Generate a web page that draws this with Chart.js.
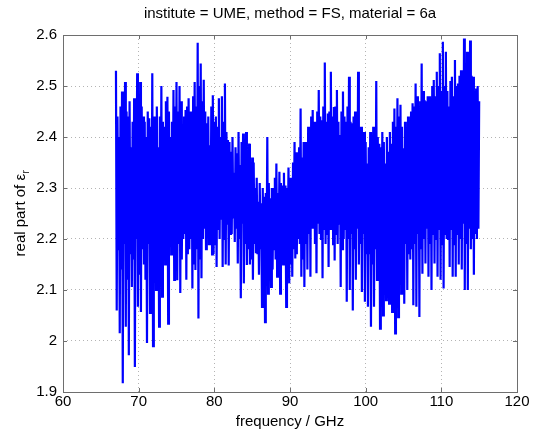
<!DOCTYPE html>
<html>
<head>
<meta charset="utf-8">
<script src="https://cdn.jsdelivr.net/npm/chart.js@4.4.1/dist/chart.umd.min.js"></script>
<style>
  html, body { margin: 0; padding: 0; background: #fff; }
  #wrap { width: 534px; height: 437px; }
</style>
</head>
<body>
<div id="wrap"><canvas id="epsChart" width="534" height="437"></canvas></div>
<script>
// --- data
var titleText = 'institute = UME, method = FS, material = 6a';
var xLabel = 'frequency / GHz';
var yLabel = 'real part of \u03b5';
var yLabelSub = 'r';

var xTicks = [60, 70, 80, 90, 100, 110, 120];
var yTicks = [1.9, 2.0, 2.1, 2.2, 2.3, 2.4, 2.5, 2.6];

// frequency grid (GHz): first point and spacing
var freqStart = 67.0;
var freqStep = 0.1;

// real part of eps_r, one value per frequency point (67.0 ... 115.0 GHz)
var epsReal = [
    2.53, 2.06, 2.44, 2.18, 2.40, 2.015, 2.46, 2.14,
    2.489, 1.917, 2.42, 2.19, 2.508, 2.028, 2.45, 2.12,
    2.44, 1.972, 2.47, 2.17, 2.38, 2.106, 2.43, 2.16,
    2.476, 1.949, 2.44, 2.20, 2.525, 2.067, 2.41, 2.13,
    2.508, 2.057, 2.46, 2.18, 2.44, 2.15, 2.43, 2.12,
    2.40, 1.996, 2.45, 2.19, 2.437, 2.055, 2.42, 2.15,
    2.525, 1.99, 2.44, 2.17, 2.44, 2.10, 2.46, 2.19,
    2.38, 2.028, 2.44, 2.16, 2.50, 2.087, 2.43, 2.20,
    2.42, 2.15, 2.47, 2.18, 2.479, 2.034, 2.45, 2.21,
    2.40, 2.17, 2.43, 2.17, 2.492, 2.12, 2.46, 2.19,
    2.508, 2.119, 2.45, 2.19, 2.50, 2.094, 2.47, 2.16,
    2.38, 2.20, 2.44, 2.21, 2.453, 2.12, 2.46, 2.17,
    2.476, 2.18, 2.45, 2.20, 2.43, 2.103, 2.48, 2.15,
    2.508, 2.139, 2.46, 2.18, 2.585, 2.044, 2.50, 2.16,
    2.544, 2.123, 2.47, 2.20, 2.512, 2.22, 2.45, 2.18,
    2.427, 2.227, 2.44, 2.19, 2.384, 2.20, 2.46, 2.17,
    2.482, 2.17, 2.43, 2.19, 2.44, 2.145, 2.42, 2.22,
    2.476, 2.20, 2.40, 2.24, 2.48, 2.145, 2.43, 2.20,
    2.505, 2.15, 2.41, 2.23, 2.394, 2.148, 2.39, 2.21,
    2.371, 2.21, 2.40, 2.24, 2.33, 2.194, 2.38, 2.22,
    2.368, 2.152, 2.41, 2.20, 2.345, 2.084, 2.39, 2.23,
    2.407, 2.113, 2.37, 2.19, 2.41, 2.149, 2.36, 2.18,
    2.387, 2.15, 2.34, 2.16, 2.36, 2.12, 2.35, 2.19,
    2.30, 2.172, 2.32, 2.17, 2.273, 2.13, 2.31, 2.18,
    2.27, 2.067, 2.30, 2.16, 2.283, 2.037, 2.29, 2.15,
    2.40, 2.093, 2.31, 2.17, 2.28, 2.106, 2.30, 2.14,
    2.30, 2.18, 2.32, 2.16, 2.348, 2.126, 2.29, 2.17,
    2.332, 2.093, 2.31, 2.15, 2.305, 2.15, 2.33, 2.16,
    2.305, 2.067, 2.30, 2.18, 2.34, 2.113, 2.32, 2.15,
    2.305, 2.126, 2.35, 2.18, 2.39, 2.162, 2.37, 2.17,
    2.361, 2.20, 2.38, 2.19, 2.456, 2.126, 2.36, 2.16,
    2.39, 2.106, 2.39, 2.19, 2.37, 2.14, 2.42, 2.21,
    2.414, 2.126, 2.44, 2.22, 2.453, 2.22, 2.43, 2.19,
    2.423, 2.133, 2.45, 2.23, 2.492, 2.21, 2.44, 2.20,
    2.433, 2.123, 2.46, 2.22, 2.546, 2.19, 2.43, 2.21,
    2.446, 2.145, 2.45, 2.22, 2.528, 2.22, 2.44, 2.19,
    2.459, 2.158, 2.46, 2.21, 2.492, 2.19, 2.43, 2.23,
    2.404, 2.106, 2.45, 2.18, 2.489, 2.20, 2.44, 2.22,
    2.43, 2.077, 2.46, 2.20, 2.518, 2.10, 2.43, 2.21,
    2.427, 2.06, 2.44, 2.18, 2.45, 2.12, 2.45, 2.22,
    2.528, 2.15, 2.42, 2.19, 2.42, 2.096, 2.41, 2.21,
    2.41, 2.077, 2.39, 2.17, 2.348, 2.067, 2.38, 2.17,
    2.41, 2.028, 2.39, 2.15, 2.42, 2.067, 2.37, 2.18,
    2.51, 2.12, 2.40, 2.14, 2.387, 2.024, 2.38, 2.17,
    2.41, 2.05, 2.39, 2.16, 2.348, 2.08, 2.40, 2.18,
    2.371, 2.073, 2.41, 2.16, 2.387, 2.057, 2.43, 2.18,
    2.456, 2.015, 2.42, 2.15, 2.476, 2.047, 2.44, 2.17,
    2.463, 2.093, 2.42, 2.16, 2.378, 2.073, 2.43, 2.19,
    2.407, 2.10, 2.44, 2.17, 2.387, 2.16, 2.45, 2.18,
    2.466, 2.07, 2.46, 2.19, 2.505, 2.067, 2.48, 2.21,
    2.44, 2.047, 2.47, 2.18, 2.544, 2.132, 2.49, 2.20,
    2.472, 2.152, 2.47, 2.22, 2.48, 2.126, 2.48, 2.19,
    2.45, 2.10, 2.50, 2.21, 2.512, 2.152, 2.48, 2.20,
    2.528, 2.126, 2.50, 2.22, 2.564, 2.12, 2.49, 2.19,
    2.587, 2.103, 2.50, 2.21, 2.567, 2.20, 2.49, 2.20,
    2.46, 2.145, 2.51, 2.22, 2.518, 2.126, 2.48, 2.19,
    2.551, 2.126, 2.50, 2.21, 2.505, 2.15, 2.52, 2.20,
    2.531, 2.14, 2.49, 2.23, 2.593, 2.10, 2.51, 2.19,
    2.567, 2.10, 2.50, 2.22, 2.589, 2.18, 2.52, 2.20,
    2.518, 2.13, 2.49, 2.21, 2.495, 2.20, 2.50, 2.22,
    2.47
];

var FONT = '"Liberation Sans", Arial, Helvetica, sans-serif';
var AXIS_COLOR = '#6e6e6e';
var TEXT_SIZE = 15;

// box, inward ticks, title and axis labels (matlab style)
var matlabFrame = {
    id: 'matlabFrame',
    afterDraw: function (chart) {
        var ctx = chart.ctx;
        var a = chart.chartArea;
        var xs = chart.scales.x, ys = chart.scales.y;
        ctx.save();
        ctx.strokeStyle = AXIS_COLOR;
        ctx.lineWidth = 1;
        ctx.strokeRect(Math.round(a.left) + 0.5, Math.round(a.top) + 0.5,
            Math.round(a.right - a.left), Math.round(a.bottom - a.top));
        var len = 4;
        ctx.beginPath();
        xTicks.forEach(function (t) {
            var px = Math.round(xs.getPixelForValue(t)) + 0.5;
            ctx.moveTo(px, a.bottom); ctx.lineTo(px, a.bottom - len);
            ctx.moveTo(px, a.top); ctx.lineTo(px, a.top + len);
        });
        yTicks.forEach(function (t) {
            var py = Math.round(ys.getPixelForValue(t)) + 0.5;
            ctx.moveTo(a.left, py); ctx.lineTo(a.left + len, py);
            ctx.moveTo(a.right, py); ctx.lineTo(a.right - len, py);
        });
        ctx.stroke();

        ctx.fillStyle = '#000';
        ctx.textAlign = 'center';
        ctx.textBaseline = 'middle';
        ctx.font = TEXT_SIZE + 'px ' + FONT;
        var cx = (a.left + a.right) / 2;
        ctx.fillText(titleText, cx, 14);
        ctx.fillText(xLabel, cx, 422);

        // y label with subscript r
        ctx.translate(21, (a.top + a.bottom) / 2);
        ctx.rotate(-Math.PI / 2);
        var w1 = ctx.measureText(yLabel).width;
        ctx.font = '10px ' + FONT;
        var w2 = ctx.measureText(yLabelSub).width;
        var x0 = -(w1 + w2) / 2;
        ctx.textAlign = 'left';
        ctx.font = TEXT_SIZE + 'px ' + FONT;
        ctx.fillText(yLabel, x0, 0);
        ctx.font = '10px ' + FONT;
        ctx.fillText(yLabelSub, x0 + w1 + 0.5, 5);
        ctx.restore();
    }
};

function createChart() {
    var ctx = document.getElementById('epsChart');
    new Chart(ctx, {
        type: 'line',
        data: {
            datasets: [{
                data: epsReal.map(function (v, i) {
                    return { x: freqStart + i * freqStep, y: v };
                }),
                borderColor: '#0000ff',
                borderWidth: 2.2,
                pointRadius: 0,
                tension: 0,
                fill: false
            }]
        },
        options: {
            responsive: false,
            animation: false,
            devicePixelRatio: 1,
            layout: { padding: { left: 0, right: 17, top: 35, bottom: 0 } },
            plugins: {
                legend: { display: false },
                title: { display: false },
                tooltip: { enabled: false }
            },
            scales: {
                x: {
                    type: 'linear',
                    min: 60, max: 120,
                    afterBuildTicks: function (s) { s.ticks = xTicks.map(function (v) { return { value: v }; }); },
                    afterFit: function (s) { s.height = 45; },
                    ticks: {
                        color: '#000',
                        font: { family: FONT, size: TEXT_SIZE },
                        padding: 1,
                        maxRotation: 0,
                        autoSkip: false
                    },
                    grid: { color: '#b4b4b4', lineWidth: 1, drawTicks: false },
                    border: { display: false, dash: [1, 3] }
                },
                y: {
                    min: 1.9, max: 2.6,
                    afterBuildTicks: function (s) { s.ticks = yTicks.map(function (v) { return { value: v }; }); },
                    afterFit: function (s) { s.width = 63; },
                    ticks: {
                        color: '#000',
                        font: { family: FONT, size: TEXT_SIZE },
                        padding: 6,
                        autoSkip: false,
                        callback: function (v) { return String(Math.round(v * 10) / 10); }
                    },
                    grid: { color: '#b4b4b4', lineWidth: 1, drawTicks: false },
                    border: { display: false, dash: [1, 3] }
                }
            }
        },
        plugins: [matlabFrame]
    });
}

createChart();
</script>
</body>
</html>
